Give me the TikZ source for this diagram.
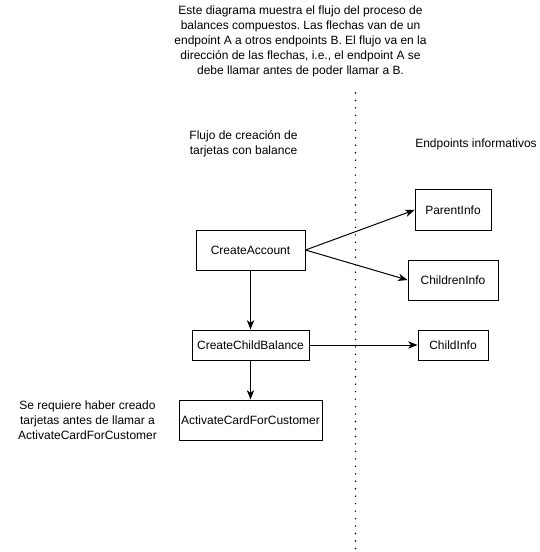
\documentclass[tikz,border=0pt]{standalone}
\usepackage{fontspec}
\setmainfont{Liberation Sans}
\usetikzlibrary{arrows.meta}
\frenchspacing
\begin{document}
\begin{tikzpicture}[x=0.75pt,y=-0.75pt,
  box/.style={draw,line width=0.75pt,font=\fontsize{9}{11.25}\selectfont,inner sep=0pt},
  txt/.style={font=\fontsize{9}{11.25}\selectfont,align=center,inner sep=0pt},
  conn/.style={line width=0.75pt,-{Stealth[length=7pt,width=5.5pt,inset=2pt]}}]
\useasboundingbox (0,0) rectangle (539,552);
% boxes
\node[box,minimum width=81.75pt,minimum height=30pt] (ca) at (250.5,250) {CreateAccount};
\node[box,minimum width=57pt,minimum height=30pt] (pi) at (453,210) {ParentInfo};
\node[box,minimum width=67.5pt,minimum height=30pt] (chi) at (453,280) {ChildrenInfo};
\node[box,minimum width=87.75pt,minimum height=22.5pt] (ccb) at (250.5,345) {CreateChildBalance};
\node[box,minimum width=52.5pt,minimum height=22.5pt] (ci) at (453,345) {ChildInfo};
\node[box,minimum width=107.25pt,minimum height=30pt] (ac) at (250.5,420) {ActivateCardForCustomer};
% texts
\node[txt] (top) at (300.5,41) {Este diagrama muestra el flujo del proceso de\\balances compuestos. Las flechas van de un\\endpoint A a otros endpoints B. El flujo va en la\\dirección de las flechas, i.e., el endpoint A se\\debe llamar antes de poder llamar a B.};
\node[txt] (flujo) at (243.5,144) {Flujo de creación de\\tarjetas con balance};
\node[txt] (endp) at (476,144) {Endpoints informativos};
\node[txt] (note) at (87.5,420) {Se requiere haber creado\\tarjetas antes de llamar a\\ActivateCardForCustomer};
% dotted separator
\coordinate (s1) at (355.5,93);
\coordinate (s2) at (355.5,552);
\draw[line width=1.2pt,line cap=round,dash pattern=on 0pt off 5.6pt] (s1) -- (s2);
% connectors
\draw[conn] (ca.east) -- (pi.west);
\draw[conn] (ca.east) -- (chi.west);
\draw[conn] (ca.south) -- (ccb.north);
\draw[conn] (ccb.east) -- (ci.west);
\draw[conn] (ccb.south) -- (ac.north);
\end{tikzpicture}
\end{document}
